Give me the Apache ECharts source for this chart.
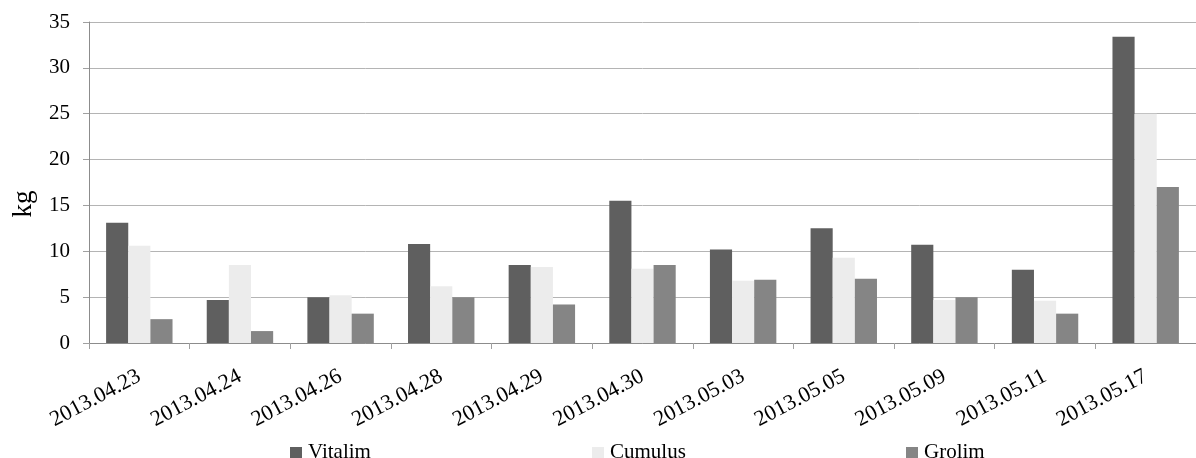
<!DOCTYPE html>
<html>
<head>
<meta charset="utf-8">
<script src="https://cdn.jsdelivr.net/npm/echarts@6/dist/echarts.min.js"></script>
<style>
  html, body { margin: 0; padding: 0; background: #fff; }
  #chart { width: 1196px; height: 458px; }
</style>
</head>
<body>
<div id="chart"></div>
<script>
// Daily harvest weights (kg) per variety
const dates = ['2013.04.23', '2013.04.24', '2013.04.26', '2013.04.28', '2013.04.29',
               '2013.04.30', '2013.05.03', '2013.05.05', '2013.05.09', '2013.05.11', '2013.05.17'];
const vitalim = [13.1, 4.7, 5.0, 10.8, 8.5, 15.5, 10.2, 12.5, 10.7, 8.0, 33.4];
const cumulus = [10.6, 8.5, 5.2, 6.2, 8.3, 8.1, 6.8, 9.3, 4.7, 4.6, 25.0];
const grolim  = [2.6, 1.3, 3.2, 5.0, 4.2, 8.5, 6.9, 7.0, 5.0, 3.2, 17.0];
const yTicks = { min: 0, max: 35, step: 5 };

const serif = 'Liberation Serif';
const colors = { Vitalim: '#5f5f5f', Cumulus: '#ececec', Grolim: '#858585' };

// one legend block per series so each entry sits at its own spot along the bottom
function legendAt(name, left) {
  return {
    data: [name],
    left: left,
    top: 442,
    padding: 0,
    itemWidth: 12,
    itemHeight: 11,
    itemGap: 0,
    icon: 'rect',
    textStyle: { fontFamily: serif, fontSize: 21, color: '#000', padding: [0, 0, 0, 1] },
    selectedMode: false
  };
}

const chart = echarts.init(document.getElementById('chart'));
chart.setOption({
  animation: false,
  color: [colors.Vitalim, colors.Cumulus, colors.Grolim],
  grid: { left: 89, right: -4, top: 22, bottom: 115 },
  legend: [legendAt('Vitalim', 290), legendAt('Cumulus', 592), legendAt('Grolim', 906)],
  xAxis: {
    type: 'category',
    data: dates,
    axisLine: { lineStyle: { color: '#8c8c8c', width: 1 } },
    axisTick: { show: true, interval: 0, length: 6, lineStyle: { color: '#a0a0a0' } },
    axisLabel: {
      interval: 0, rotate: 28, margin: 32,
      fontFamily: serif, fontSize: 22, color: '#000'
    }
  },
  yAxis: {
    type: 'value',
    min: yTicks.min, max: yTicks.max, interval: yTicks.step,
    name: 'kg',
    nameLocation: 'middle',
    nameRotate: 90,
    nameGap: 52,
    nameTextStyle: { fontFamily: serif, fontSize: 27, color: '#000', padding: [0, 43, 0, 0] },
    axisLine: { show: true, lineStyle: { color: '#8c8c8c' } },
    axisTick: { show: true, length: 6, lineStyle: { color: '#a0a0a0' } },
    axisLabel: { margin: 19, fontFamily: serif, fontSize: 21, color: '#000' },
    splitLine: { show: true, lineStyle: { color: '#b4b4b4', width: 1 } }
  },
  series: [
    { name: 'Vitalim', type: 'bar', data: vitalim, barGap: '0%', barCategoryGap: '34%' },
    { name: 'Cumulus', type: 'bar', data: cumulus, barGap: '0%', barCategoryGap: '34%' },
    { name: 'Grolim', type: 'bar', data: grolim, barGap: '0%', barCategoryGap: '34%' }
  ]
});
</script>
</body>
</html>
